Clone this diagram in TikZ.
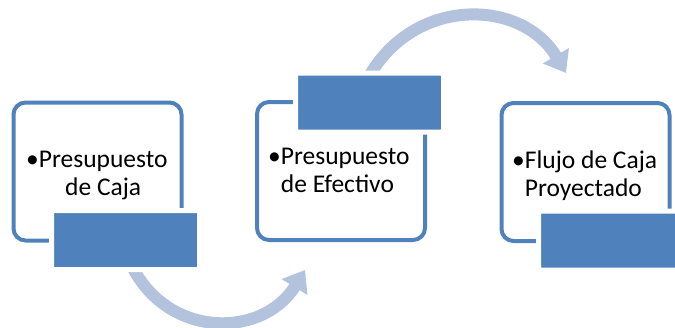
\documentclass[tikz,border=0pt]{standalone}
\usepackage{fontspec}
\setmainfont{Carlito}
\usetikzlibrary{arrows.meta}
\definecolor{accblue}{RGB}{79,129,189}
\definecolor{arrblue}{RGB}{179,195,222}
\begin{document}
\begin{tikzpicture}[x=1pt, y=-1pt,
  frame/.style={draw=accblue, line width=4pt, rounded corners=12pt, minimum width=168pt, minimum height=138pt, inner sep=0pt},
  tab/.style={fill=accblue, draw=white, line width=5pt, rounded corners=2.5pt, minimum width=148pt, minimum height=59pt, inner sep=0pt},
  swoop/.style={draw=arrblue, line width=12pt, -{Triangle[length=20pt,width=29pt]}},
  txt/.style={anchor=base west, align=left, inner sep=0pt, font=\fontsize{25.5}{28}\selectfont}]
\useasboundingbox (0,0) rectangle (675,327);
\node[frame] (box1) at (97.5,171.5){};
\node[frame] (box2) at (341,171){};
\node[frame] (box3) at (585.5,172){};
\coordinate (s1) at (127,255);
\coordinate (e1) at (305,270);
\draw[swoop] (s1) .. controls (160,340) and (262,340) .. (e1);
\coordinate (s2) at (360,95);
\coordinate (e2) at (566,73);
\draw[swoop] (s2) .. controls (400,-5) and (520,-5) .. (e2);
\node[tab] (tab1) at (125.5,240){};
\node[tab] (tab2) at (369.5,102.5){};
\node[tab] (tab3) at (612.5,240.5){};
% base anchor sits on the last line
\node[txt] (txt1) at (26,195){•Presupuesto\\\hspace*{39pt}de Caja};
\node[txt] (txt2) at (268,192){•Presupuesto\\\hphantom{•}de Efectivo};
\node[txt] (txt3) at (512,196){•Flujo de Caja\\\hphantom{•}Proyectado};
\end{tikzpicture}
\end{document}
